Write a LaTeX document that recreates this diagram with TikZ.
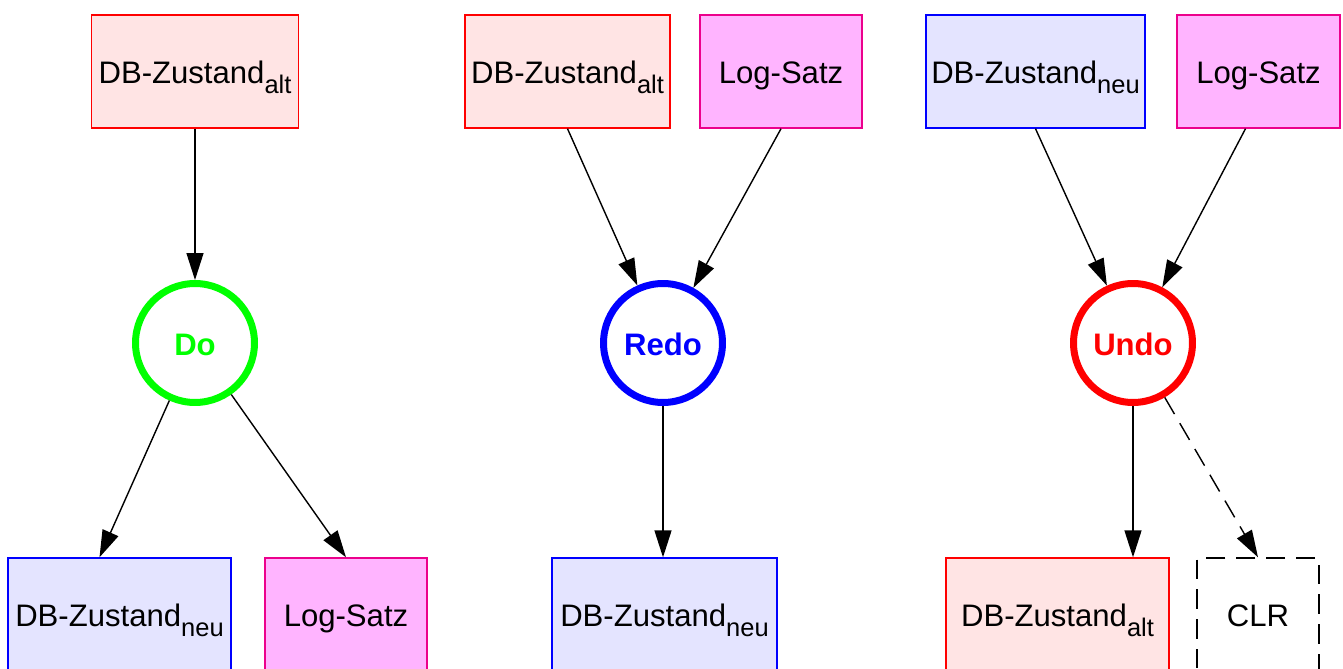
\documentclass[tikz,border=0pt]{standalone}
\usepackage{fontspec}
\setmainfont{Liberation Sans}
\usetikzlibrary{arrows.meta}
\definecolor{altfill}{HTML}{FFE4E4}
\definecolor{neufill}{HTML}{E4E4FF}
\definecolor{logfill}{HTML}{FFB4FF}
\newcommand{\zsub}[1]{\raisebox{-0.32em}{\fontsize{14.5}{16}\selectfont #1}}
\begin{document}
\begin{tikzpicture}[x=0.02cm, y=-0.02cm,
                every node/.style = {font=\fontsize{17.7}{21}\selectfont, inner sep=0pt,
                                     text height=14pt, text depth=0pt},
                box/.style = {draw, rectangle, line width=0.8pt, minimum height=2.26cm},
                altbox/.style = {box, draw=red, fill=altfill},
                neubox/.style = {box, draw=blue, fill=neufill},
                logbox/.style = {box, draw=magenta, fill=logfill, minimum width=3.24cm},
                clrbox/.style = {box, dash pattern=on 11pt off 6pt, minimum width=2.44cm},
                op/.style = {draw, circle, line width=0.14cm, minimum size=2.38cm,
                             font=\fontsize{17.7}{21}\selectfont\bfseries},
                arr/.style = {-{Triangle[length=0.54cm, width=0.34cm]}, line width=0.8pt}
            ]
            \useasboundingbox (0,0) rectangle (1343,669);
            % Do
            \node[altbox, minimum width=4.14cm] (doalt) at (195,71.5) {DB-Zustand\zsub{alt}};
            \node[op, draw=green, text=green] (do) at (195,343) {Do};
            \node[neubox, minimum width=4.46cm] (doneu) at (119.5,614.5) {DB-Zustand\zsub{neu}};
            \node[logbox] (dolog) at (346,614.5) {Log-Satz};
            \draw[arr] (doalt) -- (do);
            \draw[arr] (do) -- ([xshift=-0.4cm]doneu.north);
            \draw[arr] (do) -- (dolog.north);
            % Redo
            \node[altbox, minimum width=4.1cm] (redoalt) at (567.5,71.5) {DB-Zustand\zsub{alt}};
            \node[logbox] (redolog) at (781,71.5) {Log-Satz};
            \node[op, draw=blue, text=blue] (redo) at (663,343) {Redo};
            \node[neubox, minimum width=4.5cm] (redoneu) at (664.5,614.5) {DB-Zustand\zsub{neu}};
            \draw[arr] (redoalt.south) -- (redo);
            \draw[arr] (redolog.south) -- (redo);
            \draw[arr] (redo.south) -- (redo.south |- redoneu.north);
            % Undo
            \node[neubox, minimum width=4.38cm] (undoneu) at (1035.5,71.5) {DB-Zustand\zsub{neu}};
            \node[logbox, minimum width=3.26cm] (undolog) at (1258.5,71.5) {Log-Satz};
            \node[op, draw=red, text=red] (undo) at (1133,343) {Undo};
            \node[altbox, minimum width=4.46cm] (undoalt) at (1057.5,614.5) {DB-Zustand\zsub{alt}};
            \node[clrbox] (clr) at (1258,614.5) {CLR};
            \draw[arr] (undoneu.south) -- (undo);
            \draw[arr] ([xshift=-0.26cm]undolog.south) -- (undo);
            \draw[arr] (undo.south) -- (undo.south |- undoalt.north);
            \draw[arr, dash pattern=on 11pt off 6pt] (undo) -- (clr.north);
\end{tikzpicture}
\end{document}
